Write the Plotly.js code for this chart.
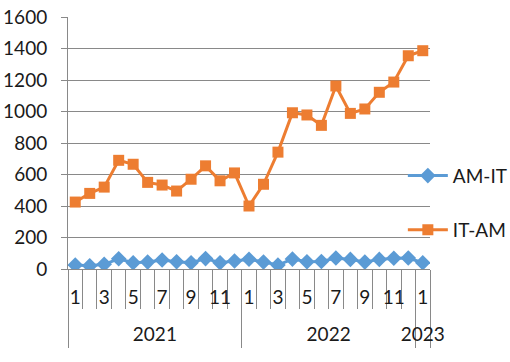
<!DOCTYPE html>
<html>
<head>
<meta charset="utf-8">
<script src="https://cdn.plot.ly/plotly-3.0.1.min.js"></script>
<style>html,body{margin:0;padding:0;background:#fff;}#chart{width:510px;height:362px;}</style>
</head>
<body>
<div id="chart"></div>
<script>
// Data
var years  = ["2021","2021","2021","2021","2021","2021","2021","2021","2021","2021","2021","2021",
              "2022","2022","2022","2022","2022","2022","2022","2022","2022","2022","2022","2022",
              "2023"];
var months = [1,2,3,4,5,6,7,8,9,10,11,12, 1,2,3,4,5,6,7,8,9,10,11,12, 1];
var amIt = [25,20,30,65,40,44,57,46,40,66,40,51, 62,44,25,63,46,48,70,61,44,61,68,70, 40];
var itAm = [425,480,520,690,665,550,533,495,570,655,560,610, 400,538,742,992,978,912,1162,988,1016,1122,1187,1354, 1386];
var yearLabels = ["2021","2022","2023"];

// category positions (one slot per month)
var pos = months.map(function(m, i){ return i; });
// month ticks: only odd months are labelled
var monthTickVals = pos.filter(function(p){ return months[p] % 2 === 1; });
var monthTickText = monthTickVals.map(function(p){ return String(months[p]); });
// year groups: centre of each group and group boundaries
var yearCentres = yearLabels.map(function(y){
  var idx = pos.filter(function(p){ return years[p] === y; });
  return (idx[0] + idx[idx.length - 1]) / 2;
});
var groupBounds = [-0.5];
yearLabels.forEach(function(y){
  var idx = pos.filter(function(p){ return years[p] === y; });
  groupBounds.push(idx[idx.length - 1] + 0.5);
});
var monthBounds = pos.map(function(p){ return p - 0.5; }).concat([pos.length - 0.5]);

var grey = "#898989";
var fam = "Lato, 'Open Sans', sans-serif";
var font = {family: fam, size: 19, color: "#1a1a1a"};

var traces = [
  {x: pos, y: amIt, name: "AM-IT", type: "scatter", mode: "lines+markers",
   line: {color: "#5B9BD5", width: 3}, marker: {symbol: "diamond", size: 12, color: "#5B9BD5"},
   legend: "legend", hoverinfo: "skip"},
  {x: pos, y: itAm, name: "IT-AM", type: "scatter", mode: "lines+markers",
   line: {color: "#ED7D31", width: 3}, marker: {symbol: "square", size: 11, color: "#ED7D31"},
   legend: "legend2", hoverinfo: "skip"},
  {x: [], y: [], xaxis: "x2", yaxis: "y", showlegend: false, type: "scatter", mode: "markers"}
];

var legendBase = {font: font, bgcolor: "rgba(0,0,0,0)", xanchor: "left", yanchor: "middle", itemwidth: 40};
var xr = [-0.5, pos.length - 0.5];

var layout = {
  width: 510, height: 362,
  margin: {l: 68, r: 80, t: 17, b: 93, autoexpand: false},
  paper_bgcolor: "#fff", plot_bgcolor: "#fff",
  font: font,
  showlegend: true,
  legend: Object.assign({x: 0.925, y: 0.37}, legendBase),
  legend2: Object.assign({x: 0.925, y: 0.155}, legendBase),
  xaxis: {
    type: "linear", range: xr, fixedrange: true, automargin: false,
    tickmode: "array", tickvals: monthTickVals, ticktext: monthTickText,
    ticks: "", ticklabelstandoff: 11, tickangle: 0,
    minor: {tickmode: "array", tickvals: monthBounds, ticks: "outside", ticklen: 39, tickcolor: grey, tickwidth: 1, showgrid: false},
    showline: true, linecolor: grey, linewidth: 1,
    showgrid: false, zeroline: false,
    tickfont: font
  },
  xaxis2: {
    type: "linear", range: xr, fixedrange: true, overlaying: "x", anchor: "y", side: "bottom", automargin: false,
    tickmode: "array", tickvals: yearCentres, ticktext: yearLabels,
    ticks: "", ticklabelstandoff: 52, tickangle: 0,
    minor: {tickmode: "array", tickvals: groupBounds, ticks: "outside", ticklen: 78, tickcolor: grey, tickwidth: 1, showgrid: false},
    showline: false, showgrid: false, zeroline: false,
    tickfont: font
  },
  yaxis: {
    range: [0, 1600], dtick: 200, tick0: 0, automargin: false,
    showgrid: true, gridcolor: grey, gridwidth: 1,
    showline: true, linecolor: grey, linewidth: 1,
    ticks: "outside", ticklen: 6, tickcolor: grey, ticklabelstandoff: 10,
    zeroline: false, fixedrange: true,
    tickfont: font
  }
};

Plotly.newPlot("chart", traces, layout, {displayModeBar: false, staticPlot: true});
</script>
</body>
</html>
